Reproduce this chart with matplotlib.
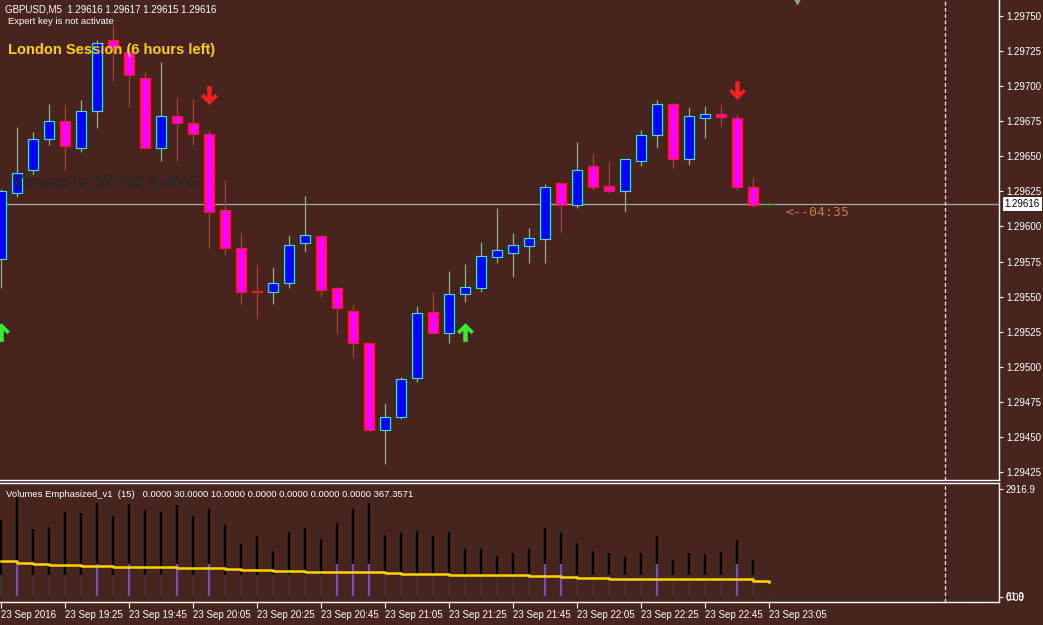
import numpy as np
import matplotlib.pyplot as plt
from matplotlib.path import Path

# GBPUSD M5 bars, 23 Sep 2016 19:05 .. 23:05
opens = [1.29577, 1.29624, 1.29640, 1.29662, 1.29675, 1.29656, 1.29682, 1.29733, 1.29724, 1.29706,
         1.29656, 1.29679, 1.29674, 1.29666, 1.29612, 1.29585, 1.29554, 1.29553, 1.29560, 1.29588,
         1.29593, 1.29556, 1.29540, 1.29517, 1.29455, 1.29464, 1.29492, 1.29539, 1.29524, 1.29552,
         1.29556, 1.29578, 1.29581, 1.29586, 1.29591, 1.29631, 1.29615, 1.29643, 1.29629, 1.29625,
         1.29647, 1.29665, 1.29687, 1.29648, 1.29677, 1.29680, 1.29677, 1.29628, 1.29616]
highs = [1.29627, 1.29671, 1.29667, 1.29687, 1.29687, 1.29690, 1.29733, 1.29744, 1.29727, 1.29710,
         1.29717, 1.29692, 1.29691, 1.29669, 1.29633, 1.29596, 1.29573, 1.29571, 1.29594, 1.29622,
         1.29594, 1.29557, 1.29544, 1.29518, 1.29474, 1.29493, 1.29543, 1.29553, 1.29568, 1.29573,
         1.29589, 1.29613, 1.29595, 1.29599, 1.29630, 1.29632, 1.29660, 1.29652, 1.29647, 1.29648,
         1.29669, 1.29690, 1.29688, 1.29685, 1.29686, 1.29687, 1.29680, 1.29635, 1.29617]
lows = [1.29556, 1.29621, 1.29635, 1.29658, 1.29640, 1.29653, 1.29670, 1.29704, 1.29685, 1.29655,
        1.29647, 1.29647, 1.29658, 1.29585, 1.29580, 1.29545, 1.29534, 1.29545, 1.29556, 1.29582,
        1.29550, 1.29523, 1.29506, 1.29454, 1.29431, 1.29463, 1.29489, 1.29523, 1.29517, 1.29546,
        1.29553, 1.29574, 1.29564, 1.29574, 1.29574, 1.29596, 1.29613, 1.29626, 1.29624, 1.29610,
        1.29643, 1.29656, 1.29642, 1.29644, 1.29663, 1.29671, 1.29626, 1.29614, 1.29615]
closes = [1.29625, 1.29638, 1.29662, 1.29675, 1.29657, 1.29682, 1.29731, 1.29727, 1.29708, 1.29656,
          1.29679, 1.29674, 1.29666, 1.29610, 1.29585, 1.29553, 1.29553, 1.29560, 1.29587, 1.29594,
          1.29555, 1.29542, 1.29517, 1.29455, 1.29464, 1.29491, 1.29538, 1.29524, 1.29552, 1.29557,
          1.29579, 1.29583, 1.29587, 1.29592, 1.29628, 1.29615, 1.29640, 1.29628, 1.29625, 1.29648,
          1.29665, 1.29687, 1.29648, 1.29679, 1.29680, 1.29678, 1.29628, 1.29615, 1.29616]

volumes = [2079, 2808, 1836, 1890, 2295, 2268, 2538, 2187, 2511, 2349,
           2295, 2484, 2187, 2376, 1944, 1431, 1647, 1242, 1755, 1863,
           1566, 1998, 2376, 2538, 1674, 1728, 1782, 1647, 1755, 1296,
           1296, 1107, 1188, 1296, 1863, 1728, 1458, 1242, 1188, 1080,
           1188, 1647, 999, 1188, 1161, 1215, 1539, 999, 54]
vol_ma = [972, 918, 891, 864, 864, 837, 837, 810, 810, 810,
          810, 783, 783, 783, 756, 729, 729, 702, 702, 675,
          675, 675, 675, 675, 648, 621, 621, 621, 594, 594,
          594, 594, 594, 567, 567, 540, 513, 513, 486, 486,
          486, 486, 486, 486, 486, 486, 486, 432, 405]
emphasized = [1, 6, 8, 11, 13, 21, 22, 23, 34, 35, 41, 46]

sell_arrows = [(13, 1.29694), (46, 1.29697)]
buy_arrows = [(0, 1.29525), (29, 1.29525)]

time_labels = ['23 Sep 2016', '23 Sep 19:25', '23 Sep 19:45', '23 Sep 20:05', '23 Sep 20:25',
               '23 Sep 20:45', '23 Sep 21:05', '23 Sep 21:25', '23 Sep 21:45', '23 Sep 22:05',
               '23 Sep 22:25', '23 Sep 22:45', '23 Sep 23:05']
price_ticks = np.arange(1.29425, 1.297501, 0.00025)
last_price = 1.29616

bg = '#47251e'
plt.rcParams['font.family'] = ['Liberation Sans', 'DejaVu Sans']

fig = plt.figure(figsize=(10.43, 6.25), dpi=100, facecolor=bg)
ax = fig.add_axes([0, 145 / 625, 999 / 1043, 480 / 625])
axv = fig.add_axes([0, 23 / 625, 999 / 1043, 119 / 625])

idx = np.arange(len(opens))
o = np.array(opens); h = np.array(highs); l = np.array(lows); c = np.array(closes)
up = c > o
down = c < o
flat = c == o

# wicks
ax.vlines(idx[up], l[up], h[up], color='#2fe08a', lw=0.9, zorder=2)
ax.vlines(idx[down], l[down], h[down], color='#ff1a1a', lw=0.9, zorder=2)
ax.vlines(idx[flat], l[flat], h[flat], color='#22cc22', lw=0.9, zorder=2)
# bodies
w = 0.68
ax.bar(idx[up], (c - o)[up], bottom=o[up], width=w, color='#0000ff',
       edgecolor='#40e0e0', linewidth=0.8, zorder=3)
ax.bar(idx[down], (o - c)[down], bottom=c[down], width=w, color='#ff00ff',
       edgecolor='#ff1a1a', linewidth=0.8, zorder=3)
ax.bar(idx[flat], np.full(flat.sum(), 0.000002), bottom=c[flat], width=w,
       color='#22cc22', edgecolor='#22cc22', linewidth=0.8, zorder=3)

# signal arrows
down_arrow = Path([(0, -1), (-0.9, -0.1), (-0.62, 0.18), (-0.24, -0.2), (-0.24, 1),
                   (0.24, 1), (0.24, -0.2), (0.62, 0.18), (0.9, -0.1), (0, -1)], closed=True)
up_arrow = Path(down_arrow.vertices * [1, -1], closed=True)
sx, sy = zip(*sell_arrows)
bx, by = zip(*buy_arrows)
ax.plot(sx, sy, ls='none', marker=down_arrow, ms=13.5, color='#ff1c1c', mec='none', zorder=5)
ax.plot(bx, by, ls='none', marker=up_arrow, ms=13.5, color='#33ee33', mec='none', zorder=5)

ax.axhline(last_price, color='#a8a8a8', lw=0.9, zorder=1)
ax.axvline(59, color='white', lw=0.9, ls=(0, (3, 2)), zorder=1)
axv.axvline(59, color='white', lw=0.9, ls=(0, (3, 2)), zorder=1)

ax.set_xlim(-0.0625, 62.375)
ax.set_ylim(1.294193, 1.297614)
ax.set_facecolor(bg)
ax.yaxis.tick_right()
ax.set_yticks(price_ticks)
ax.set_yticklabels(['%.5f' % p for p in price_ticks])
ax.tick_params(axis='y', colors='white', length=3, width=0.8, pad=2, labelsize=7)
ax.set_xticks([])
for s in ['left', 'top']:
    ax.spines[s].set_visible(False)
for s in ['right', 'bottom']:
    ax.spines[s].set_color('white')
    ax.spines[s].set_linewidth(1)

ax.annotate('%.5f' % last_price, xy=(1.0, last_price), xycoords=('axes fraction', 'data'),
            xytext=(4, 0), textcoords='offset points', va='center', ha='left',
            fontsize=7, color='black', annotation_clip=False,
            bbox=dict(boxstyle='square,pad=0.2', fc='white', ec='none'))
ax.annotate('<--04:35', xy=(49, last_price), xytext=(0, -1.5), textcoords='offset points',
            va='top', ha='left', fontsize=9.5, color='#c47a4a', family='DejaVu Sans Mono')
ax.plot([49.75], [1.297614], marker='v', ms=6, color='#9a9a9a', clip_on=False, zorder=6)

fig.text(5 / 1043, 1 - 9 / 625, 'GBPUSD,M5  1.29616 1.29617 1.29615 1.29616',
         color='white', fontsize=7, va='center', ha='left')
fig.text(8 / 1043, 1 - 21 / 625, 'Expert key is not activate',
         color='white', fontsize=6.8, va='center', ha='left')
fig.text(8 / 1043, 1 - 50 / 625, 'London Session (6 hours left)',
         color='#ffd000', fontsize=10.5, fontweight='bold', va='center', ha='left')
fig.text(13 / 1043, 1 - 183 / 625, 'Volume is  97.362 % AVG',
         color='#2e2628', fontsize=11.3, fontweight='bold', va='center', ha='left', zorder=10)

# volume panel
emph = np.isin(idx, emphasized)
vol = np.array(volumes)
low_lvl = np.minimum(np.where(emph, 900, 600), vol)
axv.vlines(idx, low_lvl, vol, color='black', lw=1.6, zorder=2)
axv.vlines(idx[~emph], 27, low_lvl[~emph], color='#3a3234', lw=1.6, zorder=2)
axv.vlines(idx[emph], 27, low_lvl[emph], color='#6a52b8', lw=1.6, zorder=2)
axv.plot(idx, vol_ma, drawstyle='steps-post', color='#ffd400', lw=1.8, zorder=3)

axv.set_xlim(-0.0625, 62.375)
axv.set_ylim(-135, 3078.9)
axv.set_facecolor(bg)
axv.yaxis.tick_right()
axv.set_yticks([0, 2916.9])
axv.set_yticklabels(['0.00', '2916.9'])
axv.tick_params(axis='y', colors='white', length=3, width=0.8, pad=2, labelsize=7)
axv.annotate('61.9', xy=(1.0, 0), xycoords=('axes fraction', 'data'), xytext=(5, 0),
             textcoords='offset points', va='center', ha='left', fontsize=7,
             color='white', annotation_clip=False)
axv.set_xticks(idx[::4])
axv.set_xticklabels(time_labels, ha='left')
axv.tick_params(axis='x', colors='white', length=4, width=0.8, pad=1.5, labelsize=7)
axv.spines['left'].set_visible(False)
for s in ['right', 'bottom', 'top']:
    axv.spines[s].set_color('white')
    axv.spines[s].set_linewidth(1)
axv.text(6 / 999, 0.9, 'Volumes Emphasized_v1  (15)   0.0000 30.0000 10.0000 '
         '0.0000 0.0000 0.0000 0.0000 367.3571', transform=axv.transAxes,
         color='white', fontsize=6.8, va='center', ha='left')

fig.savefig('out.png', dpi=100, facecolor=bg)
